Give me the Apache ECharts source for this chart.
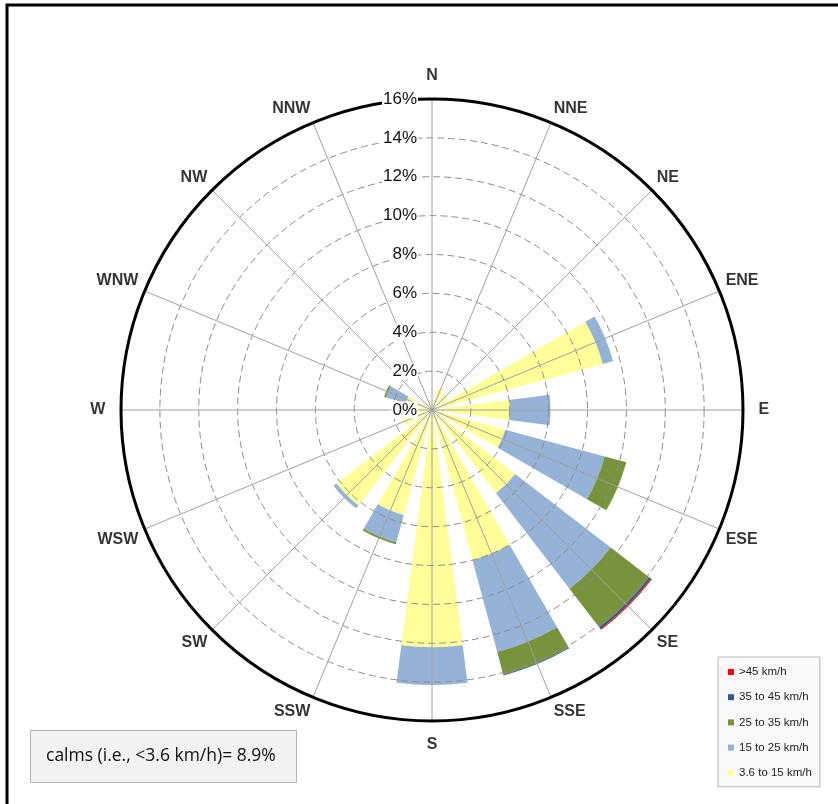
<!DOCTYPE html>
<html>
<head>
<meta charset="utf-8">
<script src="https://cdn.jsdelivr.net/npm/echarts@6/dist/echarts.min.js"></script>
<style>
html,body{margin:0;padding:0;background:#fff;}
#chart{width:838px;height:804px;}
</style>
</head>
<body>
<div id="chart"></div>
<script>
// Wind directions (compass order, clockwise from North)
var directions = ['N','NNE','NE','ENE','E','ESE','SE','SSE','S','SSW','SW','WSW','W','WNW','NW','NNW'];
// Frequency (%) per speed class
var speed3_6to15 = [0.3, 1.2, 1.0, 9.1, 4.0, 3.9, 5.4, 8.0, 12.2, 5.6, 6.2, 1.6, 0.8, 1.4, 0.4, 0.3];
var speed15to25  = [0,   0,   0,   0.55,2.1, 5.3, 6.2, 4.9, 1.95, 1.45,0.2, 0,   0,   1.05,0,   0];
var speed25to35  = [0,   0,   0,   0,   0,   1.15,2.5, 1.2, 0,    0.1, 0,   0,   0,   0.1, 0,   0];
var speed35to45  = [0,   0,   0,   0,   0,   0,   0.12,0.05,0,    0,   0,   0,   0,   0,   0,   0];
var speedOver45  = [0,   0,   0,   0,   0,   0,   0.05,0,   0,    0,   0,   0,   0,   0,   0,   0];
var seriesNames = ['3.6 to 15 km/h','15 to 25 km/h','25 to 35 km/h','35 to 45 km/h','>45 km/h'];
var legendOrder = ['>45 km/h','35 to 45 km/h','25 to 35 km/h','15 to 25 km/h','3.6 to 15 km/h'];
var radiusTicks = {min: 0, max: 16, interval: 2};
var calmsText = 'calms (i.e., <3.6 km/h)= 8.9%';

var colors = ['#ffff99', '#95b3d7', '#77933c', '#2e5a8c', '#ff0000'];
var values = [speed3_6to15, speed15to25, speed25to35, speed35to45, speedOver45];

var chart = echarts.init(document.getElementById('chart'), null, {renderer: 'canvas'});
var center = [432, 410];
var radius = 311;

var series = seriesNames.map(function (name, i) {
  return {
    name: name,
    type: 'bar',
    coordinateSystem: 'polar',
    polarIndex: 0,
    stack: 'total',
    barWidth: '66%',
    itemStyle: {color: colors[i]},
    data: values[i],
    z: 2
  };
});

// direction names, anchored just outside the outer ring through the polar scales
var n = directions.length;
var labelData = directions.map(function (d, i) {
  var ang = i * 2 * Math.PI / n;           // compass angle
  var s = Math.sin(ang), c = Math.cos(ang);
  var axial = (i % (n / 4)) === 0;
  var r = radiusTicks.max * (axial ? 1.05 : 1.022);
  var align = Math.abs(s) < 0.3 ? 'center' : (s > 0 ? 'left' : 'right');
  var vAlign = Math.abs(c) < 0.3 ? 'middle' : (c > 0 ? 'bottom' : 'top');
  return {
    value: [r, d],
    label: {align: align, verticalAlign: vAlign}
  };
});
series.push({
  name: 'directions',
  type: 'scatter',
  coordinateSystem: 'polar',
  polarIndex: 0,
  clip: false,
  silent: true,
  symbolSize: 0,
  itemStyle: {color: 'rgba(0,0,0,0)'},
  data: labelData,
  label: {
    show: true,
    position: [0, 0],
    formatter: function (p) { return directions[p.dataIndex]; },
    fontFamily: 'Liberation Sans',
    fontWeight: 'bold',
    fontSize: 16,
    color: '#000',
    textBorderWidth: 0
  },
  z: 10
});

chart.setOption({
  animation: false,
  backgroundColor: '#ffffff',
  color: colors,
  graphic: [{
    type: 'rect',
    shape: {x: 7, y: 5, width: 840, height: 820},
    style: {fill: 'none', stroke: '#000', lineWidth: 3},
    z: 100
  }],
  title: {
    text: calmsText,
    left: 30,
    top: 730,
    padding: [16, 21, 16, 16],
    backgroundColor: '#f2f2f2',
    borderColor: '#b3b3b3',
    borderWidth: 1,
    textStyle: {fontFamily: 'Open Sans', fontSize: 17.5, fontWeight: 'normal', color: '#111', lineHeight: 21}
  },
  legend: {
    data: legendOrder,
    orient: 'vertical',
    left: 718,
    top: 657,
    padding: [8, 8, 7, 10],
    itemWidth: 6,
    itemHeight: 6,
    itemGap: 11.2,
    icon: 'rect',
    backgroundColor: '#f9f9f9',
    borderColor: '#b3b3b3',
    borderWidth: 1,
    textStyle: {fontFamily: 'Liberation Sans', fontSize: 11.5, lineHeight: 14, color: '#222'}
  },
  polar: [
    {center: center, radius: radius},
    {center: center, radius: radius}
  ],
  angleAxis: [
    {
      polarIndex: 0,
      type: 'category',
      data: directions,
      startAngle: 90 + 180 / directions.length,
      clockwise: true,
      axisLine: {show: false},
      axisTick: {show: false},
      splitLine: {show: false},
      axisLabel: {show: false},
      z: 5
    },
    {
      polarIndex: 1,
      type: 'value',
      min: 0,
      max: 360,
      interval: 360 / directions.length,
      startAngle: 90,
      clockwise: true,
      axisLine: {show: true, lineStyle: {color: '#000', width: 3}},
      axisTick: {show: false},
      axisLabel: {show: false},
      splitLine: {show: true, lineStyle: {color: '#a0a0a0', width: 1}},
      z: 5
    }
  ],
  radiusAxis: [
    {
      polarIndex: 0,
      type: 'value',
      min: radiusTicks.min,
      max: radiusTicks.max,
      interval: radiusTicks.interval,
      axisLine: {show: false},
      axisTick: {show: false},
      axisLabel: {show: false},
      splitLine: {show: true, lineStyle: {color: '#8c8c8c', width: 1, type: [7, 4]}},
      z: 4
    },
    {
      polarIndex: 1,
      type: 'value',
      min: radiusTicks.min,
      max: radiusTicks.max,
      interval: radiusTicks.interval,
      axisLine: {show: false},
      axisTick: {show: false},
      splitLine: {show: false},
      axisLabel: {
        show: true,
        margin: 14,
        formatter: '{value}%',
        fontFamily: 'Liberation Sans',
        fontSize: 17,
        color: '#111',
        backgroundColor: '#ffffff',
        padding: [0, 1, 0, 1]
      },
      z: 6
    }
  ],
  series: series
});
</script>
</body>
</html>
